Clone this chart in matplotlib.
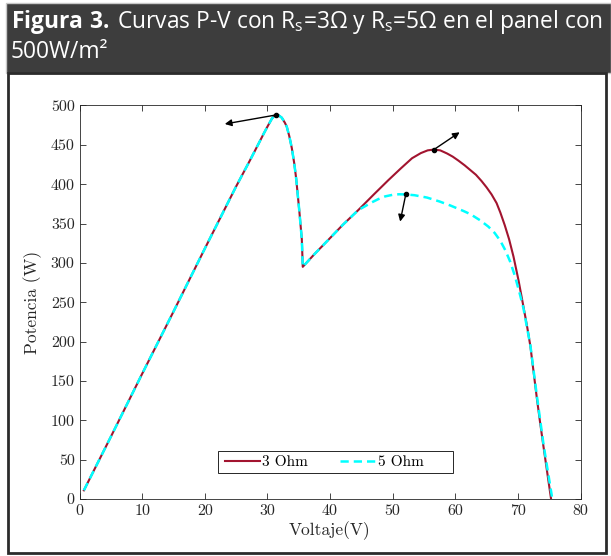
import numpy as np
import matplotlib.pyplot as plt
from matplotlib.patches import Rectangle

plt.rcParams['font.family'] = 'serif'
plt.rcParams['font.serif'] = ['cmr10']
plt.rcParams['mathtext.fontset'] = 'custom'
plt.rcParams['mathtext.rm'] = 'Open Sans'
plt.rcParams['mathtext.bf'] = 'Open Sans:bold'
plt.rcParams['axes.unicode_minus'] = False

# tramo comun (ambas resistencias)
v_common = [0.7, 5, 10, 15, 20, 25, 27.2, 28.5, 29.4, 30.0, 30.7, 31.1, 31.4, 31.8,
            32.3, 32.8, 33.1, 33.5, 33.9, 34.3, 34.6, 35.1, 35.5, 35.65, 37.5, 39.7,
            42, 44.5]
p_common = [11, 79, 159, 238, 318, 397, 430, 450, 464, 473, 483, 487, 488, 487.5,
            484.5, 478, 473, 461, 446, 426, 407, 366, 330, 295, 311, 329,
            348, 367]

# Rs = 3 ohm
v_3ohm = [47, 49.3, 51.3, 53.1, 54.5, 55.6, 56.6, 57.6, 58.7, 59.6, 60.5, 61.5,
          62.4, 63.3, 64.2, 65.0, 65.8, 66.6, 67.2, 67.9, 68.6, 69.3, 70.1, 70.9,
          71.5, 72.0, 72.5, 73.0, 73.5, 74.1, 74.7, 75.3]
p_3ohm = [387, 405, 420, 433, 439.5, 443, 444, 443, 439, 435, 430, 424,
          418, 412, 404, 396, 387, 376, 364, 348, 330, 308, 278, 244,
          218, 194, 162, 130, 100, 66, 33, 0]

# Rs = 5 ohm
v_5ohm = [45.6, 46.7, 47.7, 48.8, 50, 51, 52.1, 53.5, 55.5, 57.5, 59.2, 61.3,
          62.4, 64.0, 65.3, 66.3, 67.2, 68.0, 68.8, 69.5, 70.2, 70.9, 71.5, 72.0,
          73.0, 74.1, 75.5]
p_5ohm = [372, 377, 381, 384.5, 386.5, 387.2, 387, 386, 383, 378, 373, 366,
          362, 354, 346, 338, 328, 316, 301, 284, 264, 242, 216, 195,
          133, 69, 0]

# puntos de maxima potencia y flechas
mpp_v = [31.4, 56.6, 52.1]
mpp_p = [488, 444, 387]
arrow_v = [23.2, 60.7, 51.2]
arrow_p = [476.5, 466, 352.5]

W, H = 611, 556
fig = plt.figure(figsize=(W / 100, H / 100), dpi=100)

# cabecera y marco
fig.patches.append(Rectangle((6 / W, 1 - 73 / H), 1 - 6 / W, 70 / H, transform=fig.transFigure,
                             facecolor='#3d3d3d', edgecolor='#c8c8c8', lw=1, zorder=0))
fig.patches.append(Rectangle((8 / W, 3 / H), 598 / W, (H - 76) / H, transform=fig.transFigure,
                             facecolor='none', edgecolor='#2b2b2b', lw=2, zorder=0))
fig.text(11 / W, 1 - 28 / H,
         r"$\mathbf{Figura\ 3.}\,$Curvas P-V con R$_\mathrm{s}$=3Ω y R$_\mathrm{s}$=5Ω en el panel con",
         family='Open Sans', color='white', fontsize=16.4, va='baseline')
fig.text(11 / W, 1 - 58 / H, "500W/m²",
         family='Open Sans', color='white', fontsize=16.4, va='baseline')

ax = fig.add_axes([79.5 / W, 1 - 499 / H, 501 / W, 393.5 / H])
ax.plot(v_common + v_3ohm, p_common + p_3ohm, color='#A2142F', lw=1.5, label='3 Ohm')
ax.plot(v_common + v_5ohm, p_common + p_5ohm, color='cyan', lw=1.8, dashes=(3.3, 2.0),
        label='5 Ohm')
ax.plot(mpp_v, mpp_p, 'k.', markersize=6)
for x0, y0, x1, y1 in zip(mpp_v, mpp_p, arrow_v, arrow_p):
    ax.annotate('', xy=(x1, y1), xytext=(x0, y0),
                arrowprops=dict(arrowstyle='-|>', color='black', lw=1,
                                mutation_scale=10, shrinkA=1, shrinkB=0))

ax.set_xlim(0, 80)
ax.set_ylim(0, 500)
ax.set_xticks(np.arange(0, 81, 10))
ax.set_yticks(np.arange(0, 501, 50))
ax.tick_params(direction='in', top=True, right=True, length=4, width=0.6,
               labelsize=11.5, colors='#262626')
for s in ax.spines.values():
    s.set_linewidth(0.6)
    s.set_color('#262626')
ax.set_xlabel('Voltaje(V)', fontsize=12.5, color='#262626', labelpad=3)
ax.set_ylabel('Potencia (W)', fontsize=12.5, color='#262626', labelpad=6)

# leyenda estilo MATLAB (caja mas ancha que su contenido)
ax.legend(loc='center left', bbox_to_anchor=((225 - 79.5) / 501, (499 - 462) / 393.5),
          ncol=2, frameon=False, fontsize=11, borderaxespad=0, borderpad=0,
          handlelength=2.3, columnspacing=2.1, handletextpad=0.15)
ax.add_patch(Rectangle(((218 - 79.5) / 501, (499 - 473) / 393.5), 235 / 501, 22 / 393.5,
                       transform=ax.transAxes, facecolor='white', edgecolor='#262626',
                       lw=0.7, zorder=4))

fig.savefig('out.png', dpi=100)
